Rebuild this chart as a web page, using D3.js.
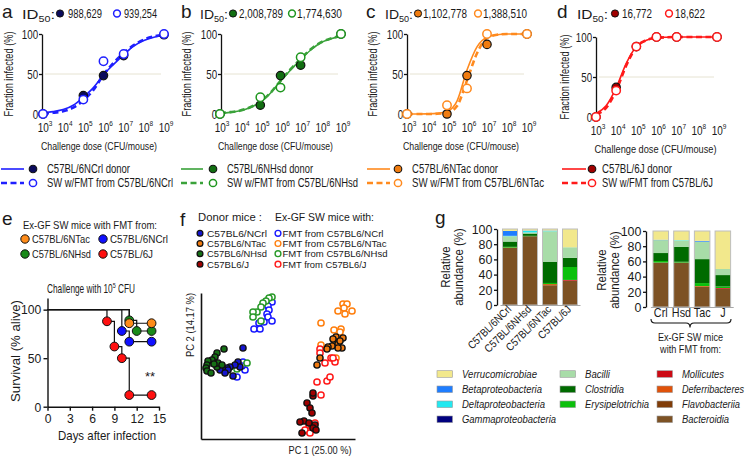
<!DOCTYPE html>
<html><head><meta charset="utf-8">
<script src="https://cdn.jsdelivr.net/npm/d3@7"></script>
<style>
html,body{margin:0;padding:0;background:#fff;}
svg{display:block;font-family:"Liberation Sans",Arial,Helvetica,sans-serif;}
</style></head><body>
<svg id="c" width="750" height="460"></svg>
<script>
// ================= DATA =================
// Panels a-d : dose-response
const logDoses = [3, 3.5, 4, 4.5, 5, 5.5, 6, 6.5, 7, 7.5, 8, 8.5, 9];
const doseTickExp = [3, 4, 5, 6, 7, 8, 9];
const id50Donor = ["988,629", "2,008,789", "1,102,778", "16,772"];
const id50Fmt = ["939,254", "1,774,630", "1,388,510", "18,622"];
const donorLabelsAD = ["C57BL/6NCrl donor", "C57BL/6NHsd donor", "C57BL/6NTac donor", "C57BL/6J donor"];
const fmtLabelsAD = ["SW w/FMT from C57BL/6NCrl", "SW w/FMT from C57BL/6NHsd", "SW w/FMT from C57BL/6NTac", "SW w/FMT from C57BL/6J"];
// fitted curves (% infected at each log dose)
const fitDonorA = [1.5, 3, 5.5, 11, 21, 33, 49, 62, 74, 85, 92, 96, 98.5];
const fitFmtA   = [0.5, 1.5, 3.5, 8, 17, 30, 49, 64, 76, 86, 93, 97, 99];
const fitDonorB = [1, 2, 4, 8, 15, 26, 41, 55, 68, 80, 89, 94, 97];
const fitFmtB   = [1, 2.3, 4.3, 8.5, 15.5, 26.5, 41.5, 56, 69, 81, 89.5, 94.5, 97.5];
const fitDonorC = [0, 0, 0.2, 0.8, 3, 16, 55, 84, 96, 99, 100, 100, 100];
const fitFmtC   = [0, 0, 0, 0.3, 1.5, 10, 42, 76, 95, 99, 100, 100, 100];
const fitDonorD = [4.3, 14, 36.5, 67, 88, 96, 99, 99.7, 100, 100, 100, 100, 100];
const fitFmtD   = [3.3, 11.5, 33, 64.5, 87.5, 96, 99, 99.7, 100, 100, 100, 100, 100];
// observed points
const ptDosesABC = [3, 5, 6, 7, 9];
const ptDosesD = [3, 4, 5, 6, 7, 9];
const ptDonorA = [0, 23, 48, 73, 99];
const ptFmtA   = [0, 18, 66, 75, 100];
const ptDonorB = [0, 11, 48, 61, 100];
const ptFmtB   = [0, 21, 33, 71, 100];
const ptDonorC = [0, 0, 48, 87, 100];
const ptFmtC   = [0, 11, 32, 100, 100];
const ptDonorD = [0, 37, 88, 100, 100, 100];
const ptFmtD   = [0, 33, 88, 100, 100, 100];

// Panel e : survival
const survLegend = ["C57BL/6NTac", "C57BL/6NCrl", "C57BL/6NHsd", "C57BL/6J"];
const daysTac = [0, 11, 14];          const survTac = [100, 86, 86];
const daysCrl = [0, 10, 11, 14];      const survCrl = [100, 78, 67, 67];
const daysHsd = [0, 11, 12, 14];      const survHsd = [100, 89, 78, 78];
const daysJ   = [0, 8, 9, 10, 11, 14]; const survJ  = [100, 88, 62, 50, 12, 12];
const dayTicks = [0, 3, 6, 9, 12, 15];

// Panel f : PCA scores [PC1, PC2]
const donorLegendF = ["C57BL6/NCrl", "C57BL6/NTac", "C57BL6/NHsd", "C57BL6/J"];
const fmtLegendF = ["FMT from C57BL6/NCrl", "FMT from C57BL6/NTac", "FMT from C57BL6/NHsd", "FMT from C57BL6/J"];
const donorNCrl = [[-35,18],[-40,4],[-38,-1],[-43,1],[-48,-1],[-51,-2],[-55,-3],[-58,-4],[-45,-10],[-50,-4],[-53,-7]];
const donorNHsd = [[-54,17],[-61,13],[-63,9],[-66,6],[-70,5],[-71,1],[-72,-2],[-71,-5],[-67,-7],[-61,-1],[-60,3],[-56,1],[-64,2]];
const donorNTac = [[58,29],[65,28],[57,24],[60,22],[64,18],[60,18],[54,20],[50,19],[49,17],[42,8],[39,1],[62,25],[55,27]];
const donor6J   = [[35,-30],[29,-37],[32,-42],[34,-47],[26,-55],[22,-56],[31,-57],[37,-59],[35,-62],[24,-67],[38,-64],[35,-27]];
const fmtNCrl = [[-6,64],[-10,60],[-9,56],[-11,52],[-10,49],[-6,45],[-14,44],[-19,43],[-24,37],[-18,37],[-35,4],[-33,-4],[-41,-11],[-36,0]];
const fmtNHsd = [[-6,69],[-9,68],[-12,65],[-15,63],[-17,59],[-21,54],[-25,54],[-25,49],[-17,45],[-31,3],[-41,-3]];
const fmtNTac = [[65,62],[69,62],[66,58],[60,55],[74,55],[67,52],[43,43],[56,36],[63,37],[62,34],[43,21],[58,8]];
const fmt6J   = [[42,17],[42,13],[53,8],[57,4],[47,3],[39,-16],[49,-15],[52,-11],[43,-29],[55,8],[31,-59],[34,-61],[30,-65],[27,-64],[37,-57],[32,-67]];

// Panel g : relative abundance (%), bars left: donors, right: ex-GF SW with FMT
const donorBarsG = ["C57BL/6NCrl", "C57BL/6NHsd", "C57BL/6NTac", "C57BL/6J"];
const fmtBarsG = ["Crl", "Hsd", "Tac", "J"];
const taxaLegend = ["Verrucomicrobiae", "Betaproteobacteria", "Deltaproteobacteria", "Gammaproteobacteria",
                    "Bacilli", "Clostridia", "Erysipelotrichia",
                    "Mollicutes", "Deferribacteres", "Flavobacteriia", "Bacteroidia"];
const taxaColors = ["#f2e88c", "#1e7dff", "#22e8f0", "#00007f",
                    "#a8dca8", "#006b00", "#0cc00c",
                    "#cc0a14", "#e0520a", "#803c08", "#7d5224"];
// values per taxon (same order as taxaLegend): donors (d...) and ex-GF SW with FMT (f...)
const dVerruco = [2.5, 2, 2, 24];   const fVerruco = [11.5, 12, 13, 50];
const dBeta    = [6.5, 0.5, 0.5, 0]; const fBeta   = [0.5, 0, 1, 0];
const dDelta   = [0.5, 2, 0.5, 0];  const fDelta   = [0, 0.5, 0, 0];
const dGamma   = [0, 0, 0, 0];      const fGamma   = [0, 0, 0, 0];
const dBacilli = [7, 1.5, 40, 14];  const fBacilli = [17, 8.5, 23, 8];
const dClost   = [7, 3, 28, 12];    const fClost   = [10.5, 19.5, 31.5, 15];
const dErysi   = [1, 0.5, 1.5, 17]; const fErysi   = [2, 1, 4, 2];
const dMolli   = [0, 0, 0, 1];      const fMolli   = [0, 0, 0, 1];
const dDefer   = [0.5, 0, 1.5, 0];  const fDefer   = [0, 0, 1, 0];
const dFlavo   = [0, 0, 0, 0];      const fFlavo   = [0, 0, 0, 0];
const dBactero = [75, 90.5, 26, 32]; const fBactero = [58.5, 58.5, 26.5, 24];

// ================= HELPERS =================
const svg = d3.select('#c');
svg.append('rect').attr('width', 750).attr('height', 460).attr('fill', '#fff');
const INK = '#1a1a1a';

function txt(g, x, y, parts, o = {}) {
  const size = o.size || 12;
  const t = g.append('text').attr('font-size', size)
    .attr('text-anchor', o.anchor || 'start').attr('fill', o.fill || INK)
    .attr('transform', `translate(${x},${y})${o.rot ? ` rotate(${o.rot})` : ''}${o.sx ? ` scale(${o.sx},1)` : ''}`);
  if (o.italic) t.attr('font-style', 'italic');
  if (typeof parts === 'string') parts = [{ t: parts }];
  let off = 0;
  parts.forEach(p => {
    const s = t.append('tspan').text(p.t);
    let target = 0;
    if (p.sup) { s.attr('font-size', size * 0.65); target = -size * 0.42; }
    if (p.sub) { s.attr('font-size', size * 0.65); target = size * 0.25; }
    if (target !== off) s.attr('dy', target - off);
    off = target;
  });
  if (o.w) t.attr('textLength', o.w).attr('lengthAdjust', 'spacingAndGlyphs');
  return t;
}
function styleAxis(g, o) {
  g.attr('font-family', null).attr('font-size', null);
  g.select('.domain').attr('stroke', o.stroke || '#111').attr('stroke-width', o.sw || 1.3);
  g.selectAll('.tick line').attr('stroke', o.stroke || '#111').attr('stroke-width', o.sw || 1.3);
  g.selectAll('.tick text').attr('fill', INK).attr('font-size', o.size || 12)
    .attr('transform', `scale(${o.sx || 1},1)`);
}

// ================= PANELS a-d =================
const adLayout = [
  { L: 'a', lx: 2, ax: 42, x0: 43, x1: 164, dy: 0, idX: 22, idW: 33, dotX: 60, numX: 68, numW: 34, oX: 117, oNumX: 124, oNumW: 33, xtC: 99, xtW: 116, ylX: 13, leg0: 1, leg1: 24, legDot: 33, legTx: 47, legW: [83, 126],
    color: '#1f1fff', dark: '#0b0b5c', open: '#1f1fff', fitD: fitDonorA, fitF: fitFmtA, doses: ptDosesABC, pD: ptDonorA, pF: ptFmtA },
  { L: 'b', lx: 181, ax: 221, x0: 220, x1: 341, dy: 0, idX: 200, idW: 28, dotX: 233, numX: 239, numW: 44, oX: 292, oNumX: 297, oNumW: 45, xtC: 275.5, xtW: 115, ylX: 191, leg0: 181, leg1: 203, legDot: 213, legTx: 227, legW: [86, 131],
    color: '#3aa23a', dark: '#126e12', open: '#1e961e', fitD: fitDonorB, fitF: fitFmtB, doses: ptDosesABC, pD: ptDonorB, pF: ptFmtB },
  { L: 'c', lx: 366, ax: 407, x0: 407, x1: 527, dy: 0, idX: 385, idW: 28, dotX: 418, numX: 423, numW: 44, oX: 478, oNumX: 483, oNumW: 44, xtC: 461, xtW: 116, ylX: 377, leg0: 367, leg1: 390, legDot: 398, legTx: 412, legW: [86, 132],
    color: '#ff8a1e', dark: '#f07c10', open: '#ff8a1e', fitD: fitDonorC, fitF: fitFmtC, doses: ptDosesABC, pD: ptDonorC, pF: ptFmtC },
  { L: 'd', lx: 557, ax: 596, x0: 596, x1: 717, dy: 3, idX: 577, idW: 31, dotX: 615, numX: 622, numW: 30, oX: 669, oNumX: 675, oNumW: 30, xtC: 655.5, xtW: 122, ylX: 569, leg0: 562, leg1: 586, legDot: 592, legTx: 602, legW: [70, 111],
    color: '#ff1a1a', dark: '#a00000', open: '#ff1a1a', fitD: fitDonorD, fitF: fitFmtD, doses: ptDosesD, pD: ptDonorD, pF: ptFmtD }
];

adLayout.forEach((P, i) => {
  const g = svg.append('g');
  const x = d3.scaleLog().domain([1e3, 1e9]).range([P.x0, P.x1]);
  const y = d3.scaleLinear().domain([0, 100]).range([114 + P.dy, 34 + P.dy]);

  txt(g, P.lx, 18, P.L, { size: 19 });
  // ID50 header
  txt(g, P.idX, 18.5, [{ t: 'ID' }, { t: '50', sub: true }, { t: ':' }], { size: 13, w: P.idW });
  g.append('circle').attr('cx', P.dotX).attr('cy', 13.5).attr('r', 3.6).attr('fill', P.dark).attr('stroke', '#111').attr('stroke-width', 1);
  txt(g, P.numX, 18, id50Donor[i], { size: 12.5, w: P.numW });
  g.append('circle').attr('cx', P.oX).attr('cy', 13.5).attr('r', 3.4).attr('fill', '#fff').attr('stroke', P.open).attr('stroke-width', 1.5);
  txt(g, P.oNumX, 18, id50Fmt[i], { size: 12.5, w: P.oNumW });

  // 50% reference line
  g.append('line').attr('x1', P.ax + 3).attr('x2', P.x1 - 3).attr('y1', y(50)).attr('y2', y(50))
    .attr('stroke', '#e6e3d2').attr('stroke-width', 1);

  // y axis
  const ya = g.append('g').attr('transform', `translate(${P.ax},0)`)
    .call(d3.axisLeft(y).tickValues([0, 50, 100]).tickSize(3).tickSizeOuter(0).tickPadding(2));
  styleAxis(ya, { size: 12.5, sx: 0.78, sw: 1.3 });

  // x axis (labels only)
  const xa = g.append('g').attr('transform', `translate(0,${118 + P.dy})`)
    .call(d3.axisBottom(x).tickValues(doseTickExp.map(e => 10 ** e)).tickSize(0).tickFormat(''));
  xa.attr('font-family', null).attr('font-size', null);
  xa.select('.domain').remove();
  xa.selectAll('.tick').each(function (d) {
    const e = Math.round(Math.log10(d));
    txt(d3.select(this), 1.5, 13.5, [{ t: '10' }, { t: String(e), sup: true }], { size: 12.5, anchor: 'middle', sx: 0.8 });
  });

  txt(g, P.xtC, 150 + P.dy, 'Challenge dose (CFU/mouse)', { size: 11.5, anchor: 'middle', w: P.xtW });
  txt(g, P.ylX, 74 + P.dy, 'Fraction infected (%)', { size: 12.5, anchor: 'middle', rot: -90, w: 85 });

  // curves
  const line = d3.line().x(d => x(10 ** d[0])).y(d => y(d[1])).curve(d3.curveMonotoneX);
  g.append('path').datum(logDoses.map((l, k) => [l, P.fitD[k]])).attr('d', line)
    .attr('fill', 'none').attr('stroke', P.color).attr('stroke-width', 1.6);
  g.append('path').datum(logDoses.map((l, k) => [l, P.fitF[k]])).attr('d', line)
    .attr('fill', 'none').attr('stroke', P.color).attr('stroke-width', 2.6).attr('stroke-dasharray', '6,3.5');

  // points
  g.selectAll('.pd').data(P.doses.map((l, k) => [l, P.pD[k]])).join('circle')
    .attr('cx', d => x(10 ** d[0])).attr('cy', d => y(d[1])).attr('r', 4.2)
    .attr('fill', P.dark).attr('stroke', '#111').attr('stroke-width', 1.2);
  g.selectAll('.pf').data(P.doses.map((l, k) => [l, P.pF[k]])).join('circle')
    .attr('cx', d => x(10 ** d[0])).attr('cy', d => y(d[1])).attr('r', 4.2)
    .attr('fill', '#fff').attr('stroke', P.open).attr('stroke-width', 1.5);

  // legend
  g.append('line').attr('x1', P.leg0).attr('x2', P.leg1).attr('y1', 169).attr('y2', 169)
    .attr('stroke', P.color).attr('stroke-width', 1.6);
  g.append('circle').attr('cx', P.legDot).attr('cy', 169).attr('r', 3.8).attr('fill', P.dark).attr('stroke', '#111').attr('stroke-width', 1.1);
  txt(g, P.legTx, 173, donorLabelsAD[i], { size: 12.5, w: P.legW[0] });
  g.append('line').attr('x1', P.leg0).attr('x2', P.leg1).attr('y1', 183).attr('y2', 183)
    .attr('stroke', P.color).attr('stroke-width', 2.6).attr('stroke-dasharray', '6,3.5');
  g.append('circle').attr('cx', P.legDot).attr('cy', 183).attr('r', 3.6).attr('fill', '#fff').attr('stroke', P.open).attr('stroke-width', 1.5);
  txt(g, P.legTx, 187, fmtLabelsAD[i], { size: 12.5, w: P.legW[1] });
});

// ================= PANEL e =================
(function () {
  const g = svg.append('g');
  txt(g, 2, 225, 'e', { size: 19 });
  txt(g, 23, 229, 'Ex-GF SW mice with FMT from:', { size: 10.5, w: 134 });
  const colors = ['#ff8c1a', '#1010ff', '#1a8a1a', '#ff1010'];
  const legPos = [[25, 239], [103, 239], [25, 254], [103, 254]];
  const legW = [58, 58, 59, 43];
  [0, 1, 2, 3].forEach(k => {
    g.append('circle').attr('cx', legPos[k][0]).attr('cy', legPos[k][1]).attr('r', 4.2)
      .attr('fill', colors[k]).attr('stroke', '#111').attr('stroke-width', 1);
    txt(g, legPos[k][0] + 7, legPos[k][1] + 4, survLegend[k], { size: 10.5, w: legW[k] });
  });
  txt(g, 91, 293, [{ t: 'Challenge with 10' }, { t: '5', sup: true }, { t: ' CFU' }], { size: 12, anchor: 'middle', sx: 0.69 });

  const x = d3.scaleLinear().domain([0, 15]).range([47.5, 159]);
  const y = d3.scaleLinear().domain([0, 112]).range([406.7, 298]);
  const xa = g.append('g').attr('transform', `translate(0,${y(0)})`)
    .call(d3.axisBottom(x).tickValues(dayTicks).tickSize(4).tickSizeOuter(0).tickPadding(3));
  styleAxis(xa, { size: 13.5, sx: 0.9, sw: 1.4 });
  const ya = g.append('g').attr('transform', `translate(${x(0)},0)`)
    .call(d3.axisLeft(y).tickValues([0, 50, 100]).tickSize(4).tickSizeOuter(0).tickPadding(3));
  styleAxis(ya, { size: 13.5, sx: 0.9, sw: 1.4 });
  txt(g, 107, 440, 'Days after infection', { size: 13.5, anchor: 'middle', w: 98 });
  txt(g, 20, 351, 'Survival (% alive)', { size: 13.5, anchor: 'middle', rot: -90, w: 102 });

  const groups = [
    { d: daysHsd, s: survHsd, c: colors[2] },
    { d: daysCrl, s: survCrl, c: colors[1] },
    { d: daysJ, s: survJ, c: colors[3] },
    { d: daysTac, s: survTac, c: colors[0] }
  ];
  const line = d3.line().x(d => x(d[0])).y(d => y(d[1])).curve(d3.curveStepAfter);
  groups.forEach(G => {
    g.append('path').datum(G.d.map((t, k) => [t, G.s[k]])).attr('d', line)
      .attr('fill', 'none').attr('stroke', '#111').attr('stroke-width', 1.2);
  });
  groups.forEach(G => {
    g.selectAll(null).data(G.d.map((t, k) => [t, G.s[k]]).slice(1)).join('circle')
      .attr('cx', d => x(d[0])).attr('cy', d => y(d[1])).attr('r', 4.4)
      .attr('fill', G.c).attr('stroke', '#111').attr('stroke-width', 1);
  });
  txt(g, 150, 381, '**', { size: 13, anchor: 'middle' });
})();

// ================= PANEL f =================
(function () {
  const g = svg.append('g');
  txt(g, 180, 226, 'f', { size: 19 });
  txt(g, 198, 221, 'Donor mice :', { size: 11.5, w: 64 });
  txt(g, 275, 221, 'Ex-GF SW mice with:', { size: 11.5, w: 99 });
  const fillC = ['#1515d0', '#f07a10', '#157015', '#a00000'];
  const openC = ['#1a1aff', '#ff7f0e', '#2a9a2a', '#ff1a1a'];
  const rowsY = [233.3, 243.5, 253.7, 264.2];
  const dW = [60, 59, 60, 42];
  const fW = [101, 104, 105, 84];
  rowsY.forEach((ry, k) => {
    g.append('circle').attr('cx', 200).attr('cy', ry).attr('r', 2.9).attr('fill', fillC[k]).attr('stroke', '#111').attr('stroke-width', 1.3);
    txt(g, 207, ry + 3.6, donorLegendF[k], { size: 9.8, w: dW[k] });
    g.append('circle').attr('cx', 278).attr('cy', ry).attr('r', 2.9).attr('fill', '#fff').attr('stroke', openC[k]).attr('stroke-width', 1.4);
    txt(g, 282.5, ry + 3.6, fmtLegendF[k], { size: 9.8, w: fW[k] });
  });

  const x = d3.scaleLinear().domain([-77, 77]).range([201, 355]);
  const y = d3.scaleLinear().domain([-73, 73]).range([439, 293]);
  const xa = g.append('g').attr('transform', `translate(0,${y(-73)})`).call(d3.axisBottom(x).tickValues([]).tickSizeOuter(0));
  styleAxis(xa, { sw: 1.6 });
  const ya = g.append('g').attr('transform', `translate(${x(-77)},0)`).call(d3.axisLeft(y).tickValues([]).tickSizeOuter(0));
  styleAxis(ya, { sw: 1.6 });
  txt(g, 320, 454, 'PC 1 (25.00 %)', { size: 11.5, anchor: 'middle', w: 63 });
  txt(g, 193.5, 325, 'PC 2 (14.17 %)', { size: 11.5, anchor: 'middle', rot: -90, w: 64 });

  const openSets = [fmtNCrl, fmtNTac, fmtNHsd, fmt6J];
  const fillSets = [donorNCrl, donorNTac, donorNHsd, donor6J];
  openSets.forEach((S, k) => {
    g.selectAll(null).data(S).join('circle').attr('cx', d => x(d[0])).attr('cy', d => y(d[1])).attr('r', 3.1)
      .attr('fill', '#fff').attr('stroke', openC[k]).attr('stroke-width', 1.5);
  });
  fillSets.forEach((S, k) => {
    g.selectAll(null).data(S).join('circle').attr('cx', d => x(d[0])).attr('cy', d => y(d[1])).attr('r', 3.1)
      .attr('fill', fillC[k]).attr('stroke', '#111').attr('stroke-width', 1.4);
  });
})();

// ================= PANEL g =================
(function () {
  const g = svg.append('g');
  txt(g, 435, 224, 'g', { size: 19 });
  const dSeries = [dVerruco, dBeta, dDelta, dGamma, dBacilli, dClost, dErysi, dMolli, dDefer, dFlavo, dBactero];
  const fSeries = [fVerruco, fBeta, fDelta, fGamma, fBacilli, fClost, fErysi, fMolli, fDefer, fFlavo, fBactero];

  function stackedChart(cats, series, xr, yr, axX) {
    const x = d3.scaleBand().domain(cats).range(xr).paddingInner(0.25).paddingOuter(0.125);
    const y = d3.scaleLinear().domain([0, 100]).range(yr);
    const rows = cats.map((c, i) => {
      const o = { cat: c };
      taxaLegend.forEach((t, k) => { o[t] = series[k][i]; });
      return o;
    });
    const keys = taxaLegend.slice().reverse(); // bottom -> top
    const stack = d3.stack().keys(keys)(rows);
    stack.forEach((layer, li) => {
      const col = taxaColors[taxaLegend.indexOf(keys[li])];
      g.selectAll(null).data(layer.filter(d => d[1] - d[0] > 0)).join('rect')
        .attr('x', d => x(d.data.cat)).attr('width', x.bandwidth())
        .attr('y', d => y(d[1])).attr('height', d => y(d[0]) - y(d[1]))
        .attr('fill', col);
    });
    g.selectAll(null).data(cats).join('rect')
      .attr('x', d => x(d)).attr('width', x.bandwidth()).attr('y', y(100)).attr('height', y(0) - y(100))
      .attr('fill', 'none').attr('stroke', '#bdbdbd').attr('stroke-width', 1);
    const xa = g.append('g').attr('transform', `translate(0,${y(0)})`)
      .call(d3.axisBottom(x).tickValues([]).tickSizeOuter(0));
    styleAxis(xa, { stroke: '#a8a8a8', sw: 1.2 });
    const ya = g.append('g').attr('transform', `translate(${axX},0)`)
      .call(d3.axisLeft(y).tickValues([0, 20, 40, 60, 80, 100]).tickSize(3).tickSizeOuter(0).tickPadding(2));
    styleAxis(ya, { size: 13.5, sx: 0.92, sw: 1.3 });
    return { x, y };
  }

  const L = stackedChart(donorBarsG, dSeries, [500, 580], [305, 229], 497);
  donorBarsG.forEach(c => {
    txt(g, L.x(c) + L.x.bandwidth() / 2 + 2, 310, c, { size: 11, anchor: 'end', rot: -45, sx: 0.87 });
  });
  txt(g, 450, 267, 'Relative', { size: 13.5, anchor: 'middle', rot: -90, sx: 0.85 });
  txt(g, 462.5, 267, 'abundance (%)', { size: 13.5, anchor: 'middle', rot: -90, sx: 0.85 });

  const R = stackedChart(fmtBarsG, fSeries, [650.4, 733.2], [307, 231], 646);
  fmtBarsG.forEach(c => {
    txt(g, R.x(c) + R.x.bandwidth() / 2, 317, c, { size: 12, anchor: 'middle', sx: 0.9 });
  });
  txt(g, 606, 270, 'Relative', { size: 13.5, anchor: 'middle', rot: -90, sx: 0.85 });
  txt(g, 618.5, 270, 'abundance (%)', { size: 13.5, anchor: 'middle', rot: -90, sx: 0.85 });
  g.append('path').attr('d', 'M651,319 Q651,323 655,323 L686,323 Q690,323 690,327.5 Q690,323 694,323 L727,323 Q731,323 731,319')
    .attr('fill', 'none').attr('stroke', '#111').attr('stroke-width', 1.1);
  txt(g, 690.5, 341, 'Ex-GF SW mice', { size: 11, anchor: 'middle', w: 65 });
  txt(g, 690.5, 353, 'with FMT from:', { size: 11, anchor: 'middle', w: 61 });

  // legend
  const colX = [437, 560, 657];
  const rowY = [374, 389.3, 404.3, 419.3];
  const cols = [[0, 1, 2, 3], [4, 5, 6], [7, 8, 9, 10]];
  const lw = [75, 80, 83, 94, 25, 39, 64, 42, 62, 58, 47];
  const ls = [11.5, 11.5, 11.5, 11.5, 11.5, 11.5, 11.5, 10.5, 10, 10.5, 10.5];
  cols.forEach((list, ci) => {
    list.forEach((k, ri) => {
      g.append('rect').attr('x', colX[ci]).attr('y', rowY[ri] - 3.3).attr('width', 15.5).attr('height', 6.6)
        .attr('fill', taxaColors[k]).attr('stroke', '#9a9a9a').attr('stroke-width', 0.6);
      txt(g, colX[ci] + 25, rowY[ri] + 4, taxaLegend[k], { size: ls[k], italic: true, w: lw[k] });
    });
  });
})();
</script>
</body></html>
